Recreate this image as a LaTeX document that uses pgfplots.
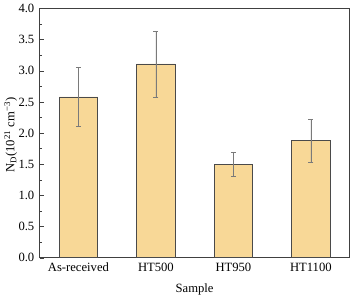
\documentclass[border=0pt]{standalone}
\usepackage{fontspec}
\setmainfont{Liberation Serif}
\usepackage{pgfplots}
\pgfplotsset{compat=1.18}
\definecolor{barfill}{HTML}{F8D897}
\definecolor{baredge}{HTML}{4A4A4A}
\definecolor{errc}{HTML}{7A7A7A}
\begin{document}
\fontsize{12.5}{14}\selectfont
\begin{tikzpicture}
\begin{axis}[
  scale only axis,
  width=307pt, height=247pt,
  xmin=-0.5, xmax=3.5,
  ymin=0, ymax=4.0,
  xtick={0,1,2,3},
  xticklabels={As-received,HT500,HT950,HT1100},
  ytick={0,0.5,...,4.0},
  minor y tick num=1,
  tick align=inside,
  major tick length=4pt,
  minor tick length=2.5pt,
  axis line style={color=black!75, line width=0.8pt},
  every tick/.style={color=black!75, line width=0.6pt},
  xtick pos=bottom,
  ytick pos=left,
  /pgf/number format/assume math mode=true,
  yticklabel style={/pgf/number format/fixed,/pgf/number format/fixed zerofill,/pgf/number format/precision=1, font=\fontsize{12.5}{14}\selectfont, xshift=-1pt},
  xticklabel style={font=\fontsize{12.5}{14}\selectfont, yshift=-1pt},
  ylabel={N\textsubscript{D}(10\textsuperscript{21} cm\textsuperscript{−3})},
  xlabel={Sample},
  label style={font=\fontsize{12.5}{14}\selectfont},
  every axis y label/.style={at={(rel axis cs:0,0.5)}, rotate=90, anchor=south, yshift=18pt, xshift=-2pt},
  xlabel style={yshift=-3pt},
]
\addplot[ybar, bar width=0.5, fill=barfill, draw=baredge, line width=0.7pt,
  error bars/.cd, y dir=both, y explicit,
  error bar style={color=errc, line width=0.6pt},
  error mark options={rotate=90, mark size=2.5pt, color=errc, line width=0.6pt}]
  coordinates {
  (0,2.58) +- (0,0.47)
  (1,3.11) +- (0,0.53)
  (2,1.50) +- (0,0.19)
  (3,1.88) +- (0,0.34)
  };
\end{axis}
\end{tikzpicture}
\end{document}
